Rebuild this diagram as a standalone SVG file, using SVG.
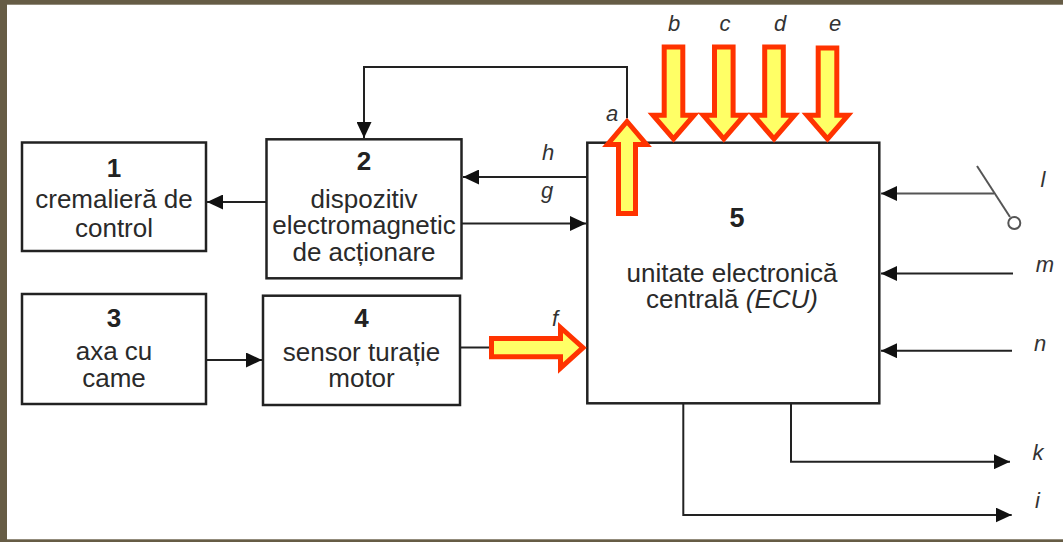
<svg xmlns="http://www.w3.org/2000/svg" width="1063" height="542" viewBox="0 0 1063 542">
<style>
.box{fill:#fff;stroke:#222;stroke-width:2.5}
.num{font-family:"Liberation Sans",Arial,sans-serif;font-weight:bold;font-size:26px;fill:#222;text-anchor:middle}
.txt{font-family:"Liberation Sans",Arial,sans-serif;font-size:26px;fill:#2a2a2a;text-anchor:middle}
.lbl{font-family:"Liberation Sans",Arial,sans-serif;font-style:italic;font-size:22px;fill:#333;text-anchor:middle}
.ln{fill:none;stroke:#222;stroke-width:2}
.lg{fill:none;stroke:#555;stroke-width:2}
.blk{fill:#ffff66;stroke:#ff3300;stroke-width:5;stroke-linejoin:miter}
.frame{fill:#665c45}
</style>
<defs>
<marker id="ah" markerUnits="userSpaceOnUse" markerWidth="16" markerHeight="15" refX="16" refY="7.5" orient="auto">
<path d="M0,0 L16,7.5 L0,15 z" fill="#111"/>
</marker>
</defs>
<rect width="1063" height="542" fill="#fff"/>
<rect class="frame" x="0" y="0" width="1063" height="4.7"/>
<rect class="frame" x="0" y="0" width="7" height="542"/>
<rect class="frame" x="0" y="539.3" width="1063" height="2.7"/>

<g id="connectors">
<line class="ln" x1="266" y1="202" x2="207" y2="202" marker-end="url(#ah)"/>
<polyline class="ln" points="627,118 627,67 364,67 364,138" marker-end="url(#ah)"/>
<line class="ln" x1="587" y1="177" x2="463" y2="177" marker-end="url(#ah)"/>
<line class="ln" x1="462" y1="223.5" x2="586" y2="223.5" marker-end="url(#ah)"/>
<line class="ln" x1="206" y1="360" x2="262" y2="360" marker-end="url(#ah)"/>
<line class="ln" x1="460" y1="347.5" x2="492" y2="347.5"/>
<line class="lg" x1="994" y1="193.5" x2="881" y2="193.5" marker-end="url(#ah)"/>
<line class="lg" x1="977" y1="166" x2="1010" y2="217"/>
<circle cx="1014.3" cy="223" r="6" fill="#fff" stroke="#555" stroke-width="2"/>
<line class="ln" x1="1013" y1="273.5" x2="881" y2="273.5" marker-end="url(#ah)"/>
<line class="ln" x1="1012" y1="350.7" x2="881" y2="350.7" marker-end="url(#ah)"/>
<polyline class="ln" points="791,403 791,461.7 1010,461.7" marker-end="url(#ah)"/>
<polyline class="ln" points="683.3,403 683.3,515 1011.7,515" marker-end="url(#ah)"/>
</g>

<g id="node1">
<rect class="box" x="22" y="142.5" width="184" height="108.5"/>
<text class="num" x="114" y="177">1</text>
<text class="txt" x="114" y="208">cremalieră de</text>
<text class="txt" x="114" y="237">control</text>
</g>
<g id="node2">
<rect class="box" x="266.5" y="139.3" width="195" height="139"/>
<text class="num" x="364" y="170">2</text>
<text class="txt" x="364" y="208">dispozitiv</text>
<text class="txt" x="364" y="234">electromagnetic</text>
<text class="txt" x="364" y="261">de acționare</text>
</g>
<g id="node3">
<rect class="box" x="22" y="294" width="184" height="110"/>
<text class="num" x="114" y="327">3</text>
<text class="txt" x="114" y="360">axa cu</text>
<text class="txt" x="114" y="387">came</text>
</g>
<g id="node4">
<rect class="box" x="263" y="295.7" width="197" height="109.3"/>
<text class="num" x="361.5" y="327">4</text>
<text class="txt" x="361.5" y="361">sensor turație</text>
<text class="txt" x="361.5" y="387">motor</text>
</g>
<g id="node5">
<rect class="box" x="587.3" y="142.7" width="292" height="260.6"/>
<text class="num" x="737" y="227" style="font-size:27px">5</text>
<text class="txt" x="732" y="282">unitate electronică</text>
<text class="txt" x="732" y="308">centrală <tspan font-style="italic">(ECU)</tspan></text>
</g>

<g id="block-arrows">
<polygon class="blk" points="618.5,213.5 635.5,213.5 635.5,144.5 646.5,144.5 627,121.5 607.5,144.5 618.5,144.5"/>
<polygon class="blk" points="664.2,47 682.8,47 682.8,115.2 694,115.2 673.5,139 653,115.2 664.2,115.2"/>
<polygon class="blk" points="714.5,47 733.1,47 733.1,115.2 744.3,115.2 723.8,139 703.3,115.2 714.5,115.2"/>
<polygon class="blk" points="764.7,47 783.3,47 783.3,115.2 794.5,115.2 774,139 753.5,115.2 764.7,115.2"/>
<polygon class="blk" points="818.2,48 836.8,48 836.8,115.2 848,115.2 827.5,139 807,115.2 818.2,115.2"/>
<polygon class="blk" points="491.5,338.5 560.5,338.5 560.5,327.5 583,347.7 560.5,368.2 560.5,356.8 491.5,356.8"/>
</g>

<g id="labels">
<text class="lbl" x="612" y="121">a</text>
<text class="lbl" x="674" y="31">b</text>
<text class="lbl" x="725" y="31">c</text>
<text class="lbl" x="780" y="31">d</text>
<text class="lbl" x="835" y="31">e</text>
<text class="lbl" x="548" y="160">h</text>
<text class="lbl" x="547" y="198">g</text>
<text class="lbl" x="555" y="326">f</text>
<text class="lbl" x="1043" y="187">l</text>
<text class="lbl" x="1045" y="272">m</text>
<text class="lbl" x="1040" y="351">n</text>
<text class="lbl" x="1038" y="460">k</text>
<text class="lbl" x="1037.5" y="508">i</text>
</g>
</svg>
